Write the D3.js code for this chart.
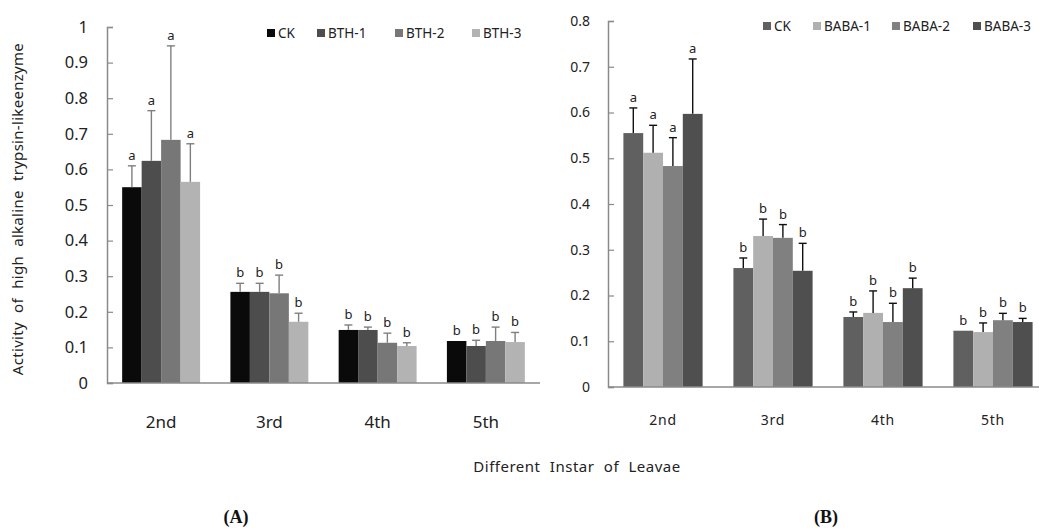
<!DOCTYPE html>
<html>
<head>
<meta charset="utf-8">
<script src="https://cdn.jsdelivr.net/npm/d3@7"></script>
<style>
  body { margin: 0; background: #fff; }
  svg { display: block; font-family: "Noto Sans", sans-serif; }
</style>
</head>
<body>
<svg id="chart" width="1039" height="530"></svg>
<script>
// instars shared by both panels
const instars = ["2nd", "3rd", "4th", "5th"];

// panel A: BTH treatments
const seriesA = ["CK", "BTH-1", "BTH-2", "BTH-3"];
const colorsA = ["#0a0a0a", "#4d4d4d", "#777777", "#b3b3b3"];
const meanA = [
  [0.550, 0.624, 0.683, 0.565],
  [0.256, 0.256, 0.252, 0.172],
  [0.149, 0.149, 0.113, 0.104],
  [0.118, 0.104, 0.118, 0.115]
];
const errA = [
  [0.060, 0.141, 0.264, 0.107],
  [0.024, 0.024, 0.051, 0.024],
  [0.014, 0.008, 0.027, 0.009],
  [0.000, 0.016, 0.039, 0.027]
];
const lettersA = [
  ["a", "a", "a", "a"],
  ["b", "b", "b", "b"],
  ["b", "b", "b", "b"],
  ["b", "b", "b", "b"]
];
const ticksA = [0, 0.1, 0.2, 0.3, 0.4, 0.5, 0.6, 0.7, 0.8, 0.9, 1];

// panel B: BABA treatments
const seriesB = ["CK", "BABA-1", "BABA-2", "BABA-3"];
const colorsB = ["#606060", "#b0b0b0", "#808080", "#4f4f4f"];
const meanB = [
  [0.555, 0.512, 0.483, 0.597],
  [0.260, 0.330, 0.326, 0.254],
  [0.153, 0.162, 0.142, 0.216],
  [0.123, 0.120, 0.146, 0.142]
];
const errB = [
  [0.055, 0.060, 0.062, 0.120],
  [0.022, 0.037, 0.029, 0.060],
  [0.011, 0.048, 0.041, 0.022],
  [0.000, 0.020, 0.015, 0.008]
];
const lettersB = lettersA;
const ticksB = [0, 0.1, 0.2, 0.3, 0.4, 0.5, 0.6, 0.7, 0.8];

const svg = d3.select("#chart");

function drawPanel(cfg) {
  const g = svg.append("g");

  const x = d3.scaleBand().domain(instars).range([cfg.left, cfg.right]).paddingInner(0.28).paddingOuter(0.14);
  const xs = d3.scaleBand().domain(cfg.series).range([0, x.bandwidth()]);
  const y = d3.scaleLinear().domain([0, cfg.max]).range([cfg.bottom, cfg.top]);

  // y axis, ticks point inward
  const yAxis = g.append("g")
    .attr("transform", `translate(${cfg.left},0)`)
    .call(d3.axisRight(y).tickValues(cfg.ticks).tickSize(6).tickFormat(d => d3.format("")(d)));
  yAxis.select(".domain").attr("stroke", "#8a8a8a").attr("stroke-width", 1.5);
  yAxis.selectAll(".tick line").attr("stroke", "#8a8a8a").attr("stroke-width", 1.2);
  yAxis.selectAll(".tick text")
    .attr("x", -cfg.labelGap)
    .attr("text-anchor", "end")
    .attr("font-size", cfg.tickFont)
    .attr("font-family", "Noto Sans, sans-serif")
    .attr("fill", "#222");

  // bars
  const groups = g.selectAll("g.grp")
    .data(instars)
    .join("g")
    .attr("class", "grp")
    .attr("transform", d => `translate(${x(d)},0)`);

  groups.each(function(inst, i) {
    const rows = cfg.series.map((s, j) => ({
      s, j, v: cfg.mean[i][j], e: cfg.err[i][j], l: cfg.letters[i][j]
    }));
    const grp = d3.select(this);
    grp.selectAll("rect")
      .data(rows)
      .join("rect")
      .attr("x", d => xs(d.s))
      .attr("width", xs.bandwidth())
      .attr("y", d => y(d.v))
      .attr("height", d => y(0) - y(d.v))
      .attr("fill", d => cfg.colors[d.j]);

    const errs = rows.filter(d => d.e > 0);
    grp.selectAll("line.ev")
      .data(errs)
      .join("line")
      .attr("class", "ev")
      .attr("x1", d => xs(d.s) + xs.bandwidth() / 2)
      .attr("x2", d => xs(d.s) + xs.bandwidth() / 2)
      .attr("y1", d => y(d.v))
      .attr("y2", d => y(d.v + d.e))
      .attr("stroke", cfg.errColor)
      .attr("stroke-width", 1.4);
    grp.selectAll("line.ec")
      .data(errs)
      .join("line")
      .attr("class", "ec")
      .attr("x1", d => xs(d.s) + xs.bandwidth() / 2 - 4)
      .attr("x2", d => xs(d.s) + xs.bandwidth() / 2 + 4)
      .attr("y1", d => y(d.v + d.e))
      .attr("y2", d => y(d.v + d.e))
      .attr("stroke", cfg.errColor)
      .attr("stroke-width", 1.4);

    grp.selectAll("text.let")
      .data(rows)
      .join("text")
      .attr("class", "let")
      .attr("x", d => xs(d.s) + xs.bandwidth() / 2)
      .attr("y", d => y(d.v + d.e) - 6)
      .attr("text-anchor", "middle")
      .attr("font-size", 13)
      .attr("fill", "#222")
      .text(d => d.l);
  });

  // x axis line
  g.append("line")
    .attr("x1", cfg.left).attr("x2", cfg.axisEnd)
    .attr("y1", y(0)).attr("y2", y(0))
    .attr("stroke", "#8a8a8a").attr("stroke-width", 1.5);

  g.selectAll("text.xl")
    .data(instars)
    .join("text")
    .attr("class", "xl")
    .attr("x", d => x(d) + x.bandwidth() / 2)
    .attr("y", cfg.xLabelY)
    .attr("text-anchor", "middle")
    .attr("font-size", cfg.xFont)
    .attr("letter-spacing", cfg.xSpacing)
    .attr("fill", "#222")
    .text(d => d);

  // legend
  const leg = g.selectAll("g.leg")
    .data(cfg.series)
    .join("g")
    .attr("class", "leg")
    .attr("transform", (d, j) => `translate(${cfg.legendX[j]},${cfg.legendY})`);
  leg.append("rect")
    .attr("x", 0).attr("y", -9).attr("width", 8).attr("height", 8)
    .attr("fill", (d, j) => cfg.colors[j]);
  leg.append("text")
    .attr("x", 11).attr("y", 0)
    .attr("font-size", 13.5)
    .attr("fill", "#222")
    .text(d => d);
}

drawPanel({
  left: 107, right: 540, axisEnd: 540, top: 27, bottom: 383, max: 1,
  ticks: ticksA, series: seriesA, colors: colorsA,
  mean: meanA, err: errA, letters: lettersA,
  errColor: "#7f7f7f", tickFont: 16.5, labelGap: 19, xFont: 17, xSpacing: 0, xLabelY: 428,
  legendX: [267, 317, 395, 472], legendY: 38
});

drawPanel({
  left: 608, right: 1048, axisEnd: 1039, top: 21, bottom: 387, max: 0.8,
  ticks: ticksB, series: seriesB, colors: colorsB,
  mean: meanB, err: errB, letters: lettersB,
  errColor: "#111", tickFont: 14, labelGap: 18, xFont: 14, xSpacing: 0.8, xLabelY: 425,
  legendX: [763, 813, 892, 973], legendY: 31
});

// shared titles
svg.append("text")
  .attr("transform", "translate(23,209) rotate(-90)")
  .attr("text-anchor", "middle")
  .attr("font-size", 15)
  .attr("letter-spacing", 0.3)
  .attr("word-spacing", 5)
  .attr("fill", "#222")
  .text("Activity of high alkaline trypsin-likeenzyme");

svg.append("text")
  .attr("x", 577).attr("y", 472)
  .attr("text-anchor", "middle")
  .attr("font-size", 15)
  .attr("letter-spacing", 0.5)
  .attr("word-spacing", 5)
  .attr("fill", "#222")
  .text("Different Instar of Leavae");

svg.selectAll("text.panel")
  .data(["(A)", "(B)"])
  .join("text")
  .attr("class", "panel")
  .attr("x", (d, i) => i === 0 ? 236 : 826)
  .attr("y", 523)
  .attr("text-anchor", "middle")
  .attr("font-family", "Liberation Serif, serif")
  .attr("font-weight", "bold")
  .attr("font-size", 18)
  .attr("fill", "#111")
  .text(d => d);
</script>
</body>
</html>
